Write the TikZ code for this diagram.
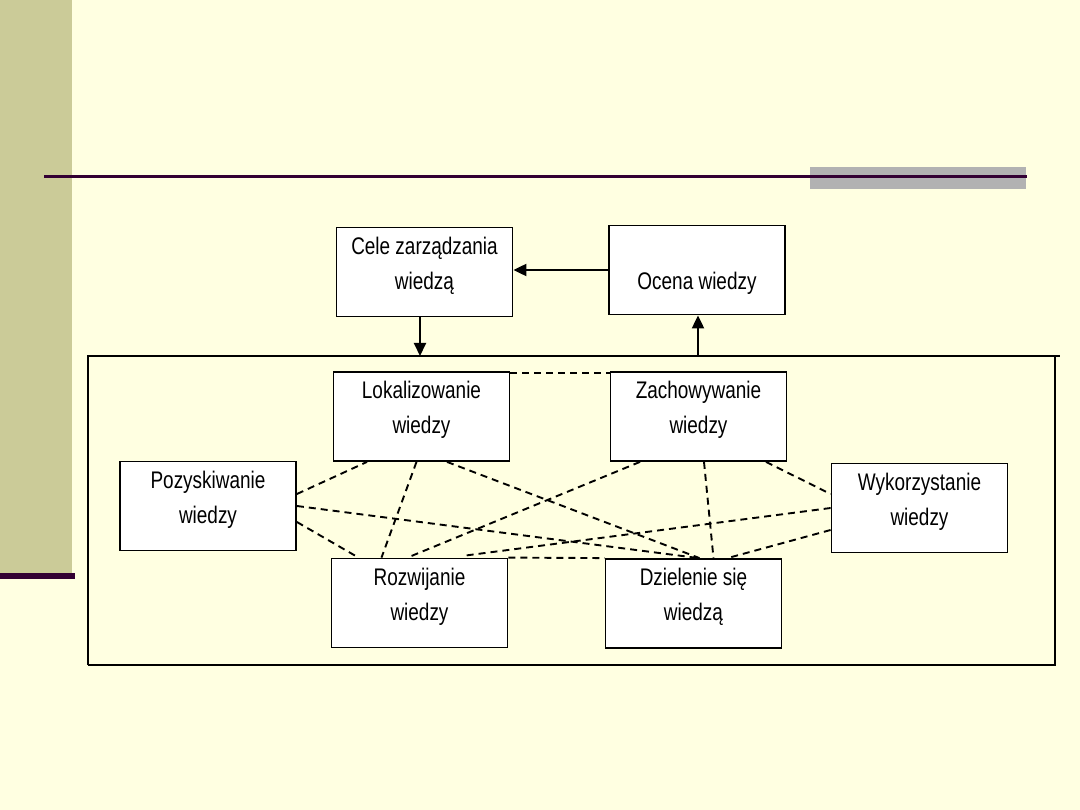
\documentclass[tikz,border=0pt]{standalone}
\usepackage{fontspec}
\setmainfont{Liberation Sans}[FakeStretch=0.79]
\usetikzlibrary{arrows.meta,calc}
\definecolor{bgc}{HTML}{FFFFE1}
\definecolor{barg}{HTML}{CBCB98}
\definecolor{purp}{HTML}{330033}
\definecolor{grayb}{HTML}{B2B2B2}
\newcommand{\twol}[2]{\raisebox{1pt}[0pt][0pt]{\begin{tabular}{@{}c@{}}#1\\#2\end{tabular}}}
\tikzset{
  box/.style={draw, fill=white, line width=1.8pt, minimum width=176pt, minimum height=89pt, inner sep=0pt,
    font=\fontsize{24}{35}\selectfont},
  link/.style={line width=1.9pt, dash pattern=on 7pt off 5pt},
  arr/.style={line width=2pt, -{Triangle[length=13pt,width=12pt]}},
  frame/.style={line width=2pt}
}
\begin{document}
\begin{tikzpicture}[x=1pt,y=-1pt]
\useasboundingbox (0,0) rectangle (1080,810);
\fill[bgc] (0,0) rectangle (1080,810);
\fill[barg] (0,0) rectangle (72,573);
\fill[purp] (0,573) rectangle (75,579);
\fill[grayb] (810,167) rectangle (1026,189);
\draw[purp, line width=3pt] (44,176.5) -- (1027,176.5);

% frame
\coordinate (ftl) at (88,356);
\coordinate (ftr) at (1060,356);
\coordinate (fbl) at (88,665);
\coordinate (fbr) at (1056,665);
\coordinate (frt) at (1055,356);
\coordinate (frb) at (1055,665);
\draw[frame] (fbl) -- (ftl) -- (ftr);
\draw[frame] (fbl) -- (fbr);
\draw[frame] (frt) -- (frb);

% nodes
\node[box] (cele) at (424.5,272) {\twol{Cele zarządzania}{wiedzą}};
\node[box] (ocena) at (697,270) {\raisebox{-20pt}[0pt][0pt]{Ocena wiedzy}};
\node[box] (lok) at (421.5,416.5) {\twol{Lokalizowanie}{wiedzy}};
\node[box] (zach) at (698.5,416.5) {\twol{Zachowywanie}{wiedzy}};
\node[box] (poz) at (208,506) {\twol{Pozyskiwanie}{wiedzy}};
\node[box] (wyk) at (919.5,508) {\twol{Wykorzystanie}{wiedzy}};
\node[box] (rozw) at (419.5,603) {\twol{Rozwijanie}{wiedzy}};
\node[box] (dziel) at (693.5,603.5) {\twol{Dzielenie się}{wiedzą}};

% arrows
\coordinate (cin) at (420,356);
\coordinate (oout) at (698,356);
\draw[arr] (ocena.west) -- (cele.east |- ocena.west);
\draw[arr] (cele.south -| cin) -- (cin);
\draw[arr] (oout) -- (oout |- ocena.south);

% dashed links
\draw[link] ([yshift=-2pt]lok.north east) -- ([yshift=-2pt]zach.north west);
\draw[link] (rozw.north east) -- (dziel.north west);
\draw[link] ([yshift=12pt]poz.east) -- ([xshift=-54.5pt]lok.south);
\draw[link] (poz.east) -- ([xshift=5pt]dziel.north);
\draw[link] ([yshift=-16pt]poz.east) -- ([xshift=-61pt]rozw.north);
\draw[link] ([xshift=-5pt]lok.south) -- ([xshift=-38pt]rozw.north);
\draw[link] ([xshift=25.5pt]lok.south) -- ([xshift=6pt]dziel.north);
\draw[link] ([xshift=-58.5pt]zach.south) -- ([xshift=-12pt]rozw.north);
\draw[link] ([xshift=5.5pt]zach.south) -- ([xshift=20pt]dziel.north);
\draw[link] ([xshift=67.5pt]zach.south) -- ([yshift=14pt]wyk.west);
\draw[link] (wyk.west) -- ([xshift=45.5pt,yshift=2pt]rozw.north);
\draw[link] ([yshift=-22pt]wyk.west) -- ([xshift=34pt]dziel.north);
\end{tikzpicture}
\end{document}
